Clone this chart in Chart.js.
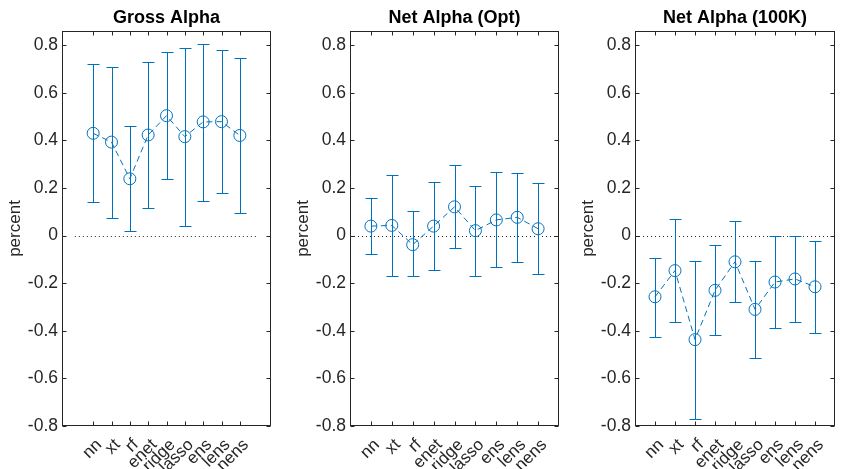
<!DOCTYPE html>
<html>
<head>
<meta charset="utf-8">
<script src="https://cdn.jsdelivr.net/npm/chart.js@4.4.0/dist/chart.umd.min.js"></script>
<style>
  html, body { margin: 0; padding: 0; background: #fff; overflow: hidden; width: 842px; height: 469px; }
  canvas { position: absolute; top: 0; }
</style>
</head>
<body>
<canvas id="c1" width="281" height="469" style="left:0px"></canvas>
<canvas id="c2" width="281" height="469" style="left:288px"></canvas>
<canvas id="c3" width="269" height="469" style="left:573px"></canvas>
<script>
// model names along the x axis
const categories = ["nn", "xt", "rf", "enet", "ridge", "lasso", "ens", "lens", "nens"];
const yTicks = [-0.8, -0.6, -0.4, -0.2, 0, 0.2, 0.4, 0.6, 0.8];

// Gross Alpha
const grossMid  = [0.430, 0.393, 0.239, 0.423, 0.504, 0.416, 0.478, 0.479, 0.421];
const grossLow  = [0.141, 0.075, 0.019, 0.116, 0.237, 0.039, 0.147, 0.179, 0.096];
const grossHigh = [0.720, 0.710, 0.459, 0.728, 0.770, 0.789, 0.805, 0.780, 0.748];

// Net Alpha (Opt)
const optMid  = [0.040, 0.043, -0.038, 0.040, 0.121, 0.021, 0.066, 0.077, 0.029];
const optLow  = [-0.079, -0.168, -0.168, -0.146, -0.051, -0.168, -0.132, -0.110, -0.160];
const optHigh = [0.158, 0.253, 0.103, 0.227, 0.295, 0.207, 0.269, 0.263, 0.220];

// Net Alpha (100K)
const k100Mid  = [-0.257, -0.147, -0.437, -0.230, -0.110, -0.310, -0.195, -0.182, -0.215];
const k100Low  = [-0.425, -0.362, -0.770, -0.418, -0.280, -0.513, -0.388, -0.365, -0.409];
const k100High = [-0.094, 0.068, -0.107, -0.038, 0.060, -0.105, -0.001, -0.001, -0.023];

const blue = "#0072BD";
const axisColor = "#262626";
const fontFamily = "'Liberation Sans', Arial, Helvetica, sans-serif";

// zero line, error bars, title and the boxed axes with inward ticks
const framePlugin = {
  id: "frame",
  beforeDatasetsDraw(chart, args, opts) {
    const { ctx, scales: { x, y } } = chart;
    ctx.save();
    ctx.strokeStyle = axisColor;
    ctx.lineWidth = 1;
    ctx.setLineDash([1, 3]);
    const y0 = Math.round(y.getPixelForValue(0)) + 0.5;
    ctx.beginPath();
    ctx.moveTo(x.getPixelForValue(0), y0);
    ctx.lineTo(x.getPixelForValue(10), y0);
    ctx.stroke();
    ctx.setLineDash([]);

    ctx.strokeStyle = blue;
    opts.low.forEach((lo, i) => {
      const px = Math.round(x.getPixelForValue(i + 1)) + 0.5;
      const pl = Math.round(y.getPixelForValue(lo)) + 0.5;
      const ph = Math.round(y.getPixelForValue(opts.high[i])) + 0.5;
      ctx.beginPath();
      ctx.moveTo(px, pl); ctx.lineTo(px, ph);
      ctx.moveTo(px - 6, pl); ctx.lineTo(px + 6, pl);
      ctx.moveTo(px - 6, ph); ctx.lineTo(px + 6, ph);
      ctx.stroke();
    });
    ctx.restore();
  },
  afterDraw(chart, args, opts) {
    const { ctx, chartArea: a, scales: { x, y } } = chart;
    const L = Math.round(a.left) + 0.5, R = Math.round(a.right) - 0.5;
    const T = Math.round(a.top) + 0.5, B = Math.round(a.bottom) - 0.5;
    ctx.save();
    ctx.strokeStyle = axisColor;
    ctx.lineWidth = 1;
    ctx.strokeRect(L, T, R - L, B - T);
    ctx.beginPath();
    x.ticks.forEach(t => {
      const px = Math.round(x.getPixelForValue(t.value)) + 0.5;
      ctx.moveTo(px, B); ctx.lineTo(px, B - 4);
      ctx.moveTo(px, T); ctx.lineTo(px, T + 4);
    });
    y.ticks.forEach(t => {
      const py = Math.round(y.getPixelForValue(t.value)) + 0.5;
      ctx.moveTo(L, py); ctx.lineTo(L + 4, py);
      ctx.moveTo(R, py); ctx.lineTo(R - 4, py);
    });
    ctx.stroke();

    ctx.fillStyle = "#000";
    ctx.font = "bold 18px " + fontFamily;
    ctx.textAlign = "center";
    ctx.textBaseline = "alphabetic";
    ctx.fillText(opts.title, (a.left + a.right) / 2, 23);
    ctx.restore();
  }
};

function makePanel(id, title, mid, low, high, xMin, xMax, padRight) {
  new Chart(document.getElementById(id), {
    type: "line",
    data: {
      datasets: [{
        data: mid.map((v, i) => ({ x: i + 1, y: v })),
        borderColor: blue,
        borderWidth: 1,
        borderDash: [6, 4],
        pointStyle: "circle",
        pointRadius: 6,
        pointBorderWidth: 1,
        pointBorderColor: blue,
        pointBackgroundColor: "rgba(0,0,0,0)",
        fill: false,
        tension: 0
      }]
    },
    options: {
      responsive: false,
      animation: false,
      layout: { padding: { left: 0, right: padRight, top: 31, bottom: 0 } },
      plugins: {
        legend: { display: false },
        tooltip: { enabled: false },
        title: { display: false },
        frame: { low, high, title }
      },
      scales: {
        x: {
          type: "linear",
          min: xMin,
          max: xMax,
          grid: { display: false, drawTicks: false },
          border: { display: false },
          afterBuildTicks: s => { s.ticks = categories.map((c, i) => ({ value: i + 1 })); },
          afterFit: s => { s.height = 43; s.paddingLeft = 0; s.paddingRight = 0; },
          ticks: {
            autoSkip: false,
            minRotation: 45,
            maxRotation: 45,
            padding: 9,
            labelOffset: 6,
            color: axisColor,
            font: { family: fontFamily, size: 17 },
            callback: v => categories[Math.round(v) - 1]
          }
        },
        y: {
          type: "linear",
          min: -0.8,
          max: 0.86,
          grid: { display: false, drawTicks: false },
          border: { display: false },
          afterBuildTicks: s => { s.ticks = yTicks.map(v => ({ value: v })); },
          afterFit: s => { s.width = 62; s.paddingTop = 0; s.paddingBottom = 0; },
          title: {
            display: true,
            text: "percent",
            color: axisColor,
            font: { family: fontFamily, size: 17 },
            padding: { top: 5, bottom: 0 }
          },
          ticks: {
            padding: 4,
            color: axisColor,
            font: { family: fontFamily, size: 17.5 },
            callback: v => (v === 0 ? "0" : v.toFixed(1))
          }
        }
      }
    },
    plugins: [framePlugin]
  });
}

makePanel("c1", "Gross Alpha", grossMid, grossLow, grossHigh, -0.7, 10.7, 10);
makePanel("c2", "Net Alpha (Opt)", optMid, optLow, optHigh, 0, 10, 10);
makePanel("c3", "Net Alpha (100K)", k100Mid, k100Low, k100High, 0, 10, -2);
</script>
</body>
</html>
